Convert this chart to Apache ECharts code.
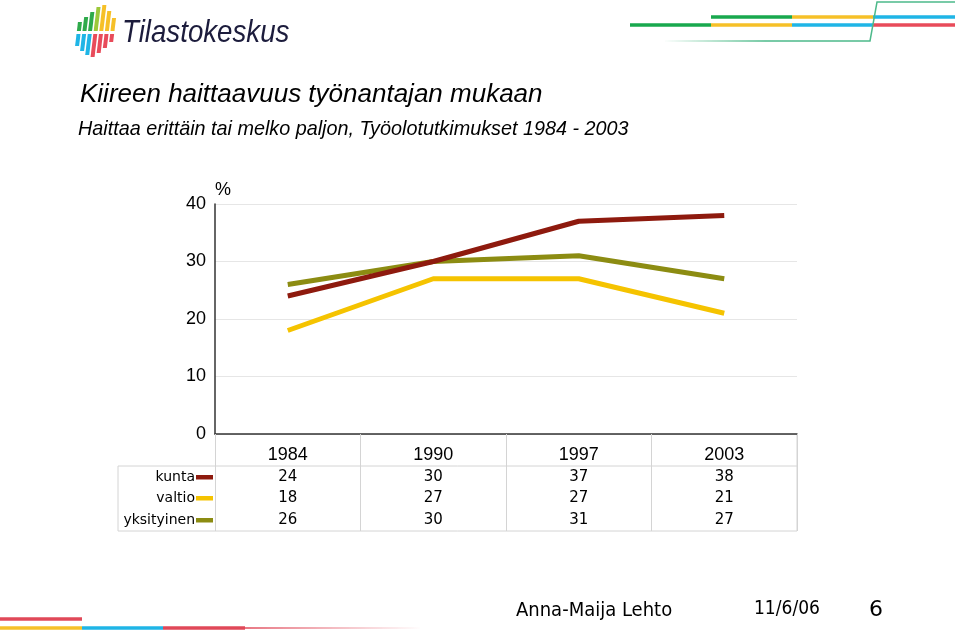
<!DOCTYPE html>
<html>
<head>
<meta charset="utf-8">
<script src="https://cdn.jsdelivr.net/npm/echarts@6/dist/echarts.min.js"></script>
<style>html,body{margin:0;padding:0;background:#fff;}#c{width:959px;height:635px;}</style>
</head>
<body>
<div id="c"></div>
<script>
var categories = ['1984', '1990', '1997', '2003'];
var seriesNames = ['kunta', 'valtio', 'yksityinen'];
var kunta = [24, 30, 37, 38];
var valtio = [18, 27, 27, 21];
var yksityinen = [26, 30, 31, 27];
var yTicks = [0, 10, 20, 30, 40];
var colors = ['#8e1a0e', '#f5c300', '#8c8c12'];

var chart = echarts.init(document.getElementById('c'), null, {renderer: 'canvas'});
var GL = 215, GT = 204, GR = 797, GB = 434;
var allData = [kunta, valtio, yksityinen];

function baseGraphics() {
  var g = [];
  // logo bars
  var tops = [22, 17, 12, 7, 5, 11, 18];
  var bots = [46, 51, 55, 57, 53, 48, 42];
  var topCol = ['#2eaa4a', '#2eaa4a', '#2eaa4a', '#9cc83a', '#f6c028', '#f6c028', '#f6c028'];
  var botCol = ['#1fb5e6', '#1fb5e6', '#1fb5e6', '#e84b5a', '#e84b5a', '#e84b5a', '#e84b5a'];
  var skew = 0.12;
  for (var i = 0; i < 7; i++) {
    var x0 = 77 + i * 5.6;
    var w = 4;
    function pt(x, y) { return [x - (y - 30) * skew, y]; }
    g.push({type: 'polygon', shape: {points: [pt(x0, tops[i]), pt(x0 + w, tops[i]), pt(x0 + w, 31), pt(x0, 31)]}, style: {fill: topCol[i]}});
    g.push({type: 'polygon', shape: {points: [pt(x0, 34), pt(x0 + w, 34), pt(x0 + w, bots[i]), pt(x0, bots[i])]}, style: {fill: botCol[i]}});
  }
  g.push({type: 'text', x: 122, y: 33, scaleX: 0.865, style: {text: 'Tilastokeskus', font: 'italic 32px "Liberation Sans", Arial', fill: '#1c1c3c', verticalAlign: 'middle'}});

  // top-right decoration
  function seg(x1, x2, y, c, lw) { g.push({type: 'line', shape: {x1: x1, y1: y, x2: x2, y2: y}, style: {stroke: c, lineWidth: lw || 3.5}}); }
  seg(711, 792, 17, '#19a84e'); seg(792, 873, 17, '#f6c028'); seg(873, 955, 17, '#1fb5e6');
  seg(630, 711, 25, '#19a84e'); seg(711, 792, 25, '#f6c028'); seg(792, 873, 25, '#1fb5e6'); seg(873, 955, 25, '#e84b5a');
  g.push({type: 'polyline', shape: {points: [[665, 41], [870, 41], [877, 2], [955, 2]]}, style: {stroke: new echarts.graphic.LinearGradient(0, 0, 1, 0, [{offset: 0, color: 'rgba(60,180,120,0)'}, {offset: 0.35, color: '#4cb98a'}, {offset: 1, color: '#4cb98a'}]), lineWidth: 1.5, fill: null}});

  // bottom-left decoration
  seg(0, 82, 619, '#e04858'); seg(0, 82, 628, '#f6c028'); seg(82, 163, 628, '#1fb5e6'); seg(163, 245, 628, '#e04858');
  g.push({type: 'line', shape: {x1: 245, y1: 628, x2: 420, y2: 628}, style: {stroke: new echarts.graphic.LinearGradient(0, 0, 1, 0, [{offset: 0, color: '#e04858'}, {offset: 1, color: 'rgba(224,72,88,0)'}]), lineWidth: 1.5}});

  // titles
  g.push({type: 'text', x: 80, y: 95, style: {text: 'Kiireen haittaavuus työnantajan mukaan', font: 'italic 26px "Liberation Sans", Arial', fill: '#000', verticalAlign: 'middle'}});
  g.push({type: 'text', x: 78, y: 129, style: {text: 'Haittaa erittäin tai melko paljon, Työolotutkimukset 1984 - 2003', font: 'italic 19.8px "Liberation Sans", Arial', fill: '#000', verticalAlign: 'middle'}});
  g.push({type: 'text', x: 215, y: 190, style: {text: '%', font: '18px "Liberation Sans", Arial', fill: '#000', verticalAlign: 'middle'}});

  // footer
  g.push({type: 'text', x: 516, y: 611, style: {text: 'Anna-Maija Lehto', font: '20px "DejaVu Sans Condensed", "DejaVu Sans", Verdana', fill: '#000', verticalAlign: 'middle'}});
  g.push({type: 'text', x: 754, y: 609, style: {text: '11/6/06', font: '19px "DejaVu Sans Condensed", "DejaVu Sans", Verdana', fill: '#000', verticalAlign: 'middle'}});
  g.push({type: 'text', x: 869, y: 610, style: {text: '6', font: '22px "DejaVu Sans", Verdana', fill: '#000', verticalAlign: 'middle'}});
  return g;
}

chart.setOption({
  animation: false,
  grid: {left: GL, top: GT, right: 959 - GR, bottom: 635 - GB},
  xAxis: {
    type: 'category', data: categories, boundaryGap: true,
    axisLine: {lineStyle: {color: '#333', width: 1.5}},
    axisTick: {show: true, inside: false, length: 97, alignWithLabel: false, lineStyle: {color: '#d4d4d4'}},
    axisLabel: {fontFamily: '"Liberation Sans", Arial', fontSize: 18, color: '#000', margin: 12}
  },
  yAxis: {
    type: 'value', min: 0, max: 40, interval: 10,
    axisLine: {show: true, lineStyle: {color: '#333', width: 1.5}},
    axisTick: {show: false},
    splitLine: {lineStyle: {color: '#e6e6e6'}},
    axisLabel: {fontFamily: '"Liberation Sans", Arial', fontSize: 18, color: '#000', margin: 9,
      formatter: function (v) { return yTicks.indexOf(v) >= 0 ? String(v) : ''; }}
  },
  series: allData.map(function (d, i) {
    return {name: seriesNames[i], type: 'line', data: d, symbol: 'none', lineStyle: {color: colors[i], width: 5}, z: 3 - i};
  }),
  graphic: baseGraphics()
});

// data table beneath the axis
var g = baseGraphics();
var rowY = [477, 498, 520];
var tableL = 118, tableTop = 466, tableBot = 531;
var line = function (x1, y1, x2, y2) { g.push({type: 'line', shape: {x1: x1, y1: y1, x2: x2, y2: y2}, style: {stroke: '#d4d4d4', lineWidth: 1}}); };
line(tableL, tableTop, GR, tableTop);
line(tableL, tableBot, GR, tableBot);
line(tableL, tableTop, tableL, tableBot);
line(GR, GB, GR, tableBot);
for (var r = 0; r < seriesNames.length; r++) {
  g.push({type: 'text', x: 195, y: rowY[r], style: {text: seriesNames[r], font: '14px "DejaVu Sans", Verdana', fill: '#000', align: 'right', verticalAlign: 'middle'}});
  g.push({type: 'rect', shape: {x: 196, y: rowY[r] - 2, width: 17, height: 4.5}, style: {fill: colors[r]}});
  for (var c = 0; c < categories.length; c++) {
    var px = chart.convertToPixel({xAxisIndex: 0}, categories[c]);
    g.push({type: 'text', x: px, y: rowY[r], style: {text: String(allData[r][c]), font: '15px "DejaVu Sans", Verdana', fill: '#000', align: 'center', verticalAlign: 'middle'}});
  }
}
chart.setOption({graphic: g}, {replaceMerge: ['graphic']});
</script>
</body>
</html>
